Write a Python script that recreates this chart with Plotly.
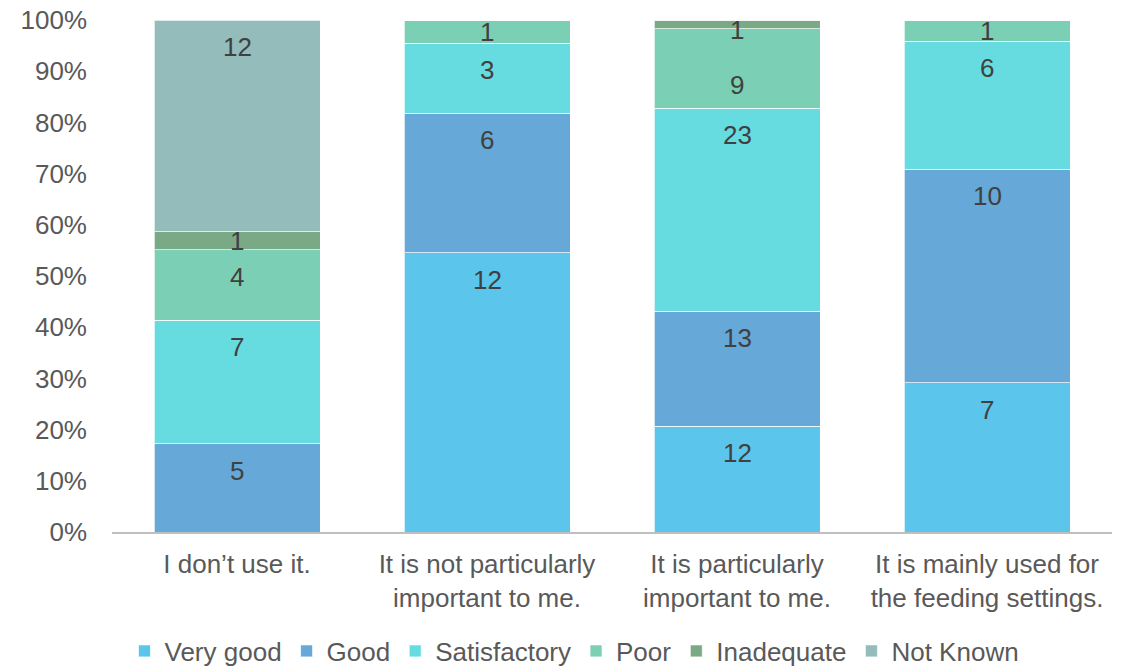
import plotly.graph_objects as go

# Responses per usage group
categories = [
    "I don\u2019t use it.",
    "It is not particularly<br>important to me.",
    "It is particularly<br>important to me.",
    "It is mainly used for<br>the feeding settings.",
]
ratings = ["Very good", "Good", "Satisfactory", "Poor", "Inadequate", "Not Known"]
very_good = [0, 12, 12, 7]
good = [5, 6, 13, 10]
satisfactory = [7, 3, 23, 6]
poor = [4, 1, 9, 1]
inadequate = [1, 0, 1, 0]
not_known = [12, 0, 0, 0]

series = [very_good, good, satisfactory, poor, inadequate, not_known]
colors = ["#5BC5EB", "#66A8D7", "#66DCE1", "#7BCFB5", "#79AA85", "#93BCBB"]

FONT = "Liberation Sans"
FS = 26
PLOT_H = 512  # plot area height in px, used to convert label offsets

fig = go.Figure()
for name, vals, col in zip(ratings, series, colors):
    fig.add_trace(go.Bar(
        name=name, x=categories, y=vals,
        marker=dict(color=col, line=dict(color="rgba(255,255,255,0.7)", width=1)),
        hoverinfo="skip",
    ))

# per-label extra downward shift (px) where labels would crowd
nudge = {(2, 3): 29}

totals = [sum(s[i] for s in series) for i in range(len(categories))]
annotations = []
for i, cat in enumerate(categories):
    cum = 0.0
    for k, vals in enumerate(series):
        v = vals[i]
        if v == 0:
            continue
        p = 100.0 * v / totals[i]
        top = cum + p
        cum = top
        seg_px = p / 100 * PLOT_H
        if seg_px >= 40:
            y = top - 27 * 100 / PLOT_H
        else:
            y = top - p / 2
        y = min(y, 100 - 10 * 100 / PLOT_H)
        y -= nudge.get((i, k), 0) * 100 / PLOT_H
        annotations.append(dict(
            x=cat, y=y, xref="x", yref="y", text=str(v), showarrow=False,
            font=dict(family=FONT, size=FS, color="#404040"),
            xanchor="center", yanchor="middle",
        ))

fig.update_layout(
    barmode="stack", barnorm="percent", bargap=0.336,
    width=1126, height=666,
    margin=dict(l=112, r=14, t=20, b=134, autoexpand=False),
    paper_bgcolor="white", plot_bgcolor="white",
    font=dict(family=FONT, size=FS, color="#595959"),
    annotations=annotations,
    legend=dict(
        orientation="h", x=0.4625, xanchor="center",
        yref="container", y=15 / 666, yanchor="middle",
        font=dict(family=FONT, size=FS, color="#595959"),
        itemwidth=30, traceorder="normal",
    ),
    xaxis=dict(
        showline=True, linecolor="#BFBFBF", linewidth=1.5,
        tickfont=dict(family=FONT, size=FS, color="#595959"),
        ticks="", ticklabelstandoff=8, automargin=False,
    ),
    yaxis=dict(
        range=[0, 100], dtick=10, ticksuffix="%", showgrid=False,
        zeroline=False, showline=False,
        tickfont=dict(family=FONT, size=FS, color="#595959"),
        ticklabelstandoff=24, automargin=False,
    ),
)

fig.write_html("out.html")
